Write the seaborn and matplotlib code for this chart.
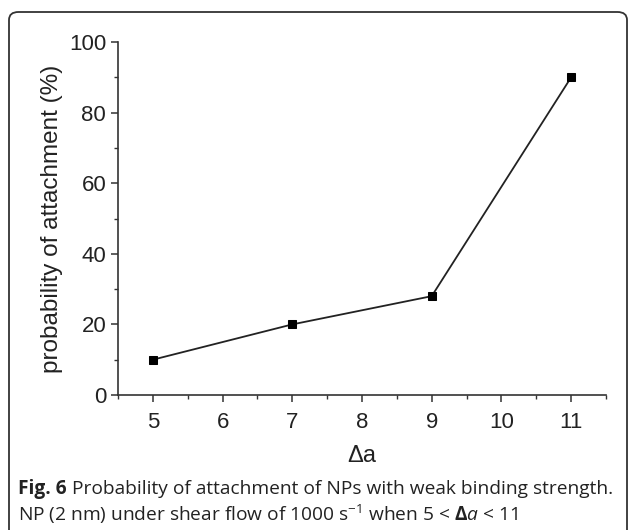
import matplotlib
matplotlib.use("Agg")
import matplotlib.pyplot as plt
import seaborn as sns
import pandas as pd
from matplotlib.patches import FancyBboxPatch
from matplotlib.ticker import MultipleLocator

delta_a = [5, 7, 9, 11]
prob = [10, 20, 28, 90]
x_ticks = [5, 6, 7, 8, 9, 10, 11]
y_ticks = [0, 20, 40, 60, 80, 100]

sns.set_theme(style="ticks")
plt.rcParams['font.family'] = ['Liberation Sans', 'DejaVu Sans']
plt.rcParams['mathtext.fontset'] = 'custom'
plt.rcParams['mathtext.rm'] = 'Open Sans'
plt.rcParams['mathtext.it'] = 'Open Sans:italic'
plt.rcParams['mathtext.bf'] = 'Open Sans:bold'

df = pd.DataFrame({"da": delta_a, "p": prob})

fig = plt.figure(figsize=(6.29, 5.30), dpi=100)
W, H = 629, 530
ax = fig.add_axes([118 / W, 1 - 395 / H, (606 - 118) / W, (395 - 42) / H])

sns.lineplot(data=df, x="da", y="p", ax=ax, color="#222222", lw=1.3,
             marker="s", markersize=6, markeredgecolor="black",
             markerfacecolor="black")

ax.set_xlim(4.5, 11.5)
ax.set_ylim(0, 100)
ax.set_xticks(x_ticks)
ax.set_yticks(y_ticks)
ax.xaxis.set_minor_locator(MultipleLocator(0.5))
ax.yaxis.set_minor_locator(MultipleLocator(10))
for s in ["top", "right"]:
    ax.spines[s].set_visible(False)
for s in ["left", "bottom"]:
    ax.spines[s].set_color("#333333")
    ax.spines[s].set_linewidth(1.2)
ax.tick_params(axis="both", which="major", direction="out", length=5, width=1.1,
               colors="#333333", labelsize=16, labelcolor="#222222")
ax.tick_params(axis="x", which="major", pad=7)
ax.tick_params(axis="both", which="minor", direction="out", length=3, width=1.0,
               colors="#333333")
ax.set_xlabel("Δa", fontsize=17, color="#222222", labelpad=9)
ax.set_ylabel("probability of attachment (%)", fontsize=17.5, color="#222222", labelpad=4)

# outer rounded border
border = FancyBboxPatch((9 / W, -0.05), (627 - 9) / W, (1 - 12 / H) + 0.05,
                        boxstyle="round,pad=0,rounding_size=0.015",
                        transform=fig.transFigure, fill=False,
                        edgecolor="#333333", lw=1.3, clip_on=False)
fig.add_artist(border)

cap_font = ['Open Sans', 'DejaVu Sans']
fs = 13.8
t1 = fig.text(18 / W, 1 - 489 / H, "Fig. 6", fontsize=fs, fontweight="bold",
              family=cap_font, color="#222222", va="center", ha="left")
fig.canvas.draw()
bb = t1.get_window_extent(fig.canvas.get_renderer())
x_after = (bb.x1 + 5) / W
fig.text(x_after, 1 - 489 / H,
         "Probability of attachment of NPs with weak binding strength.",
         fontsize=fs, family=cap_font, color="#222222", va="center", ha="left")
fig.text(18 / W, 1 - 514 / H,
         r"NP (2 nm) under shear flow of 1000 s$^{-1}$ when 5 < $\mathbf{\Delta}\mathit{a}$ < 11",
         fontsize=fs, family=cap_font, color="#222222", va="center", ha="left")

fig.savefig("out.png", dpi=100)
